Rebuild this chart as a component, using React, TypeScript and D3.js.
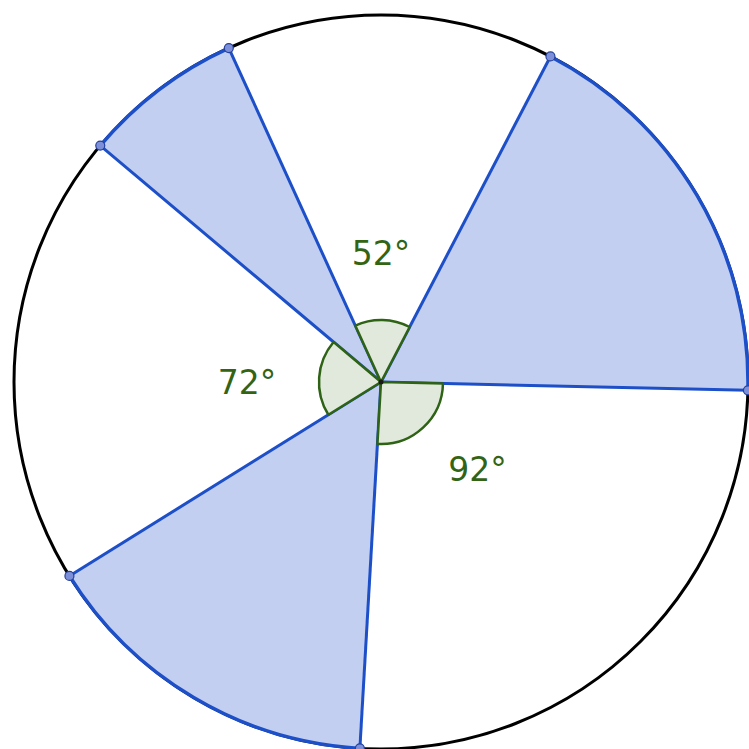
import React from "react";
import * as d3 from "d3";

// boundary directions in degrees, clockwise from 12 o'clock
const boundaries = [-24.5, 27.5, 91.3, 183.3, 238.1, 310.1];
// is the sector that starts at each boundary shaded?
const shaded = [false, true, false, true, false, true];

const size = 749;
const cx = 381;
const cy = 382;
const R = 367;
const angleR = 62;
// label placement for the white angles (direction, distance), in the same order
const labelDir = [0, 132, 270];
const labelDist = [129, 130, 134];

const rad = (d: number) => (d * Math.PI) / 180;

const App = () => {
  const sectors = boundaries.map((b, i) => {
    const next = i + 1 < boundaries.length ? boundaries[i + 1] : boundaries[0] + 360;
    return { start: b, end: next, shaded: shaded[i] };
  });
  const white = sectors.filter((s) => !s.shaded);

  const sectorArc = d3.arc<any>().innerRadius(0).outerRadius(R);
  const rimArc = d3.arc<any>().innerRadius(R).outerRadius(R);
  const angleArc = d3.arc<any>().innerRadius(0).outerRadius(angleR);

  const pt = (deg: number, r: number) => [r * Math.sin(rad(deg)), -r * Math.cos(rad(deg))];

  return (
    <svg width={size} height={size} style={{ position: "absolute", left: 0, top: 0 }}>
      <g transform={`translate(${cx},${cy})`}>
        <circle r={R} fill="#ffffff" stroke="#000000" strokeWidth={3} />
        {sectors.filter((s) => s.shaded).map((s, i) => (
          <path
            key={"s" + i}
            d={sectorArc({ startAngle: rad(s.start), endAngle: rad(s.end) }) as string}
            fill="#c2cff0"
            stroke="none"
          />
        ))}
        {sectors.filter((s) => s.shaded).map((s, i) => (
          <path
            key={"r" + i}
            d={rimArc({ startAngle: rad(s.start), endAngle: rad(s.end) }) as string}
            fill="none"
            stroke="#1c4fc8"
            strokeWidth={3.5}
          />
        ))}
        {boundaries.map((b, i) => {
          const [x, y] = pt(b, R);
          return <line key={"l" + i} x1={0} y1={0} x2={x} y2={y} stroke="#1c4fc8" strokeWidth={3} />;
        })}
        {white.map((s, i) => (
          <path
            key={"a" + i}
            d={angleArc({ startAngle: rad(s.start), endAngle: rad(s.end) }) as string}
            fill="#e1e9dc"
            stroke="#2e6214"
            strokeWidth={2.5}
            strokeLinejoin="round"
          />
        ))}
        <circle r={2.5} fill="#1a1a1a" />
        {boundaries.map((b, i) => {
          const [x, y] = pt(b, R);
          return <circle key={"p" + i} cx={x} cy={y} r={4.5} fill="#7d8fd8" stroke="#24409a" strokeWidth={1.2} />;
        })}
        {white.map((s, i) => {
          const [x, y] = pt(labelDir[i], labelDist[i]);
          return (
            <text
              key={"t" + i}
              x={x}
              y={y + 12}
              textAnchor="middle"
              fontFamily="DejaVu Sans"
              fontSize={33}
              fill="#336414"
            >
              {`${Math.round(s.end - s.start)}°`}
            </text>
          );
        })}
      </g>
    </svg>
  );
};

export default App;
